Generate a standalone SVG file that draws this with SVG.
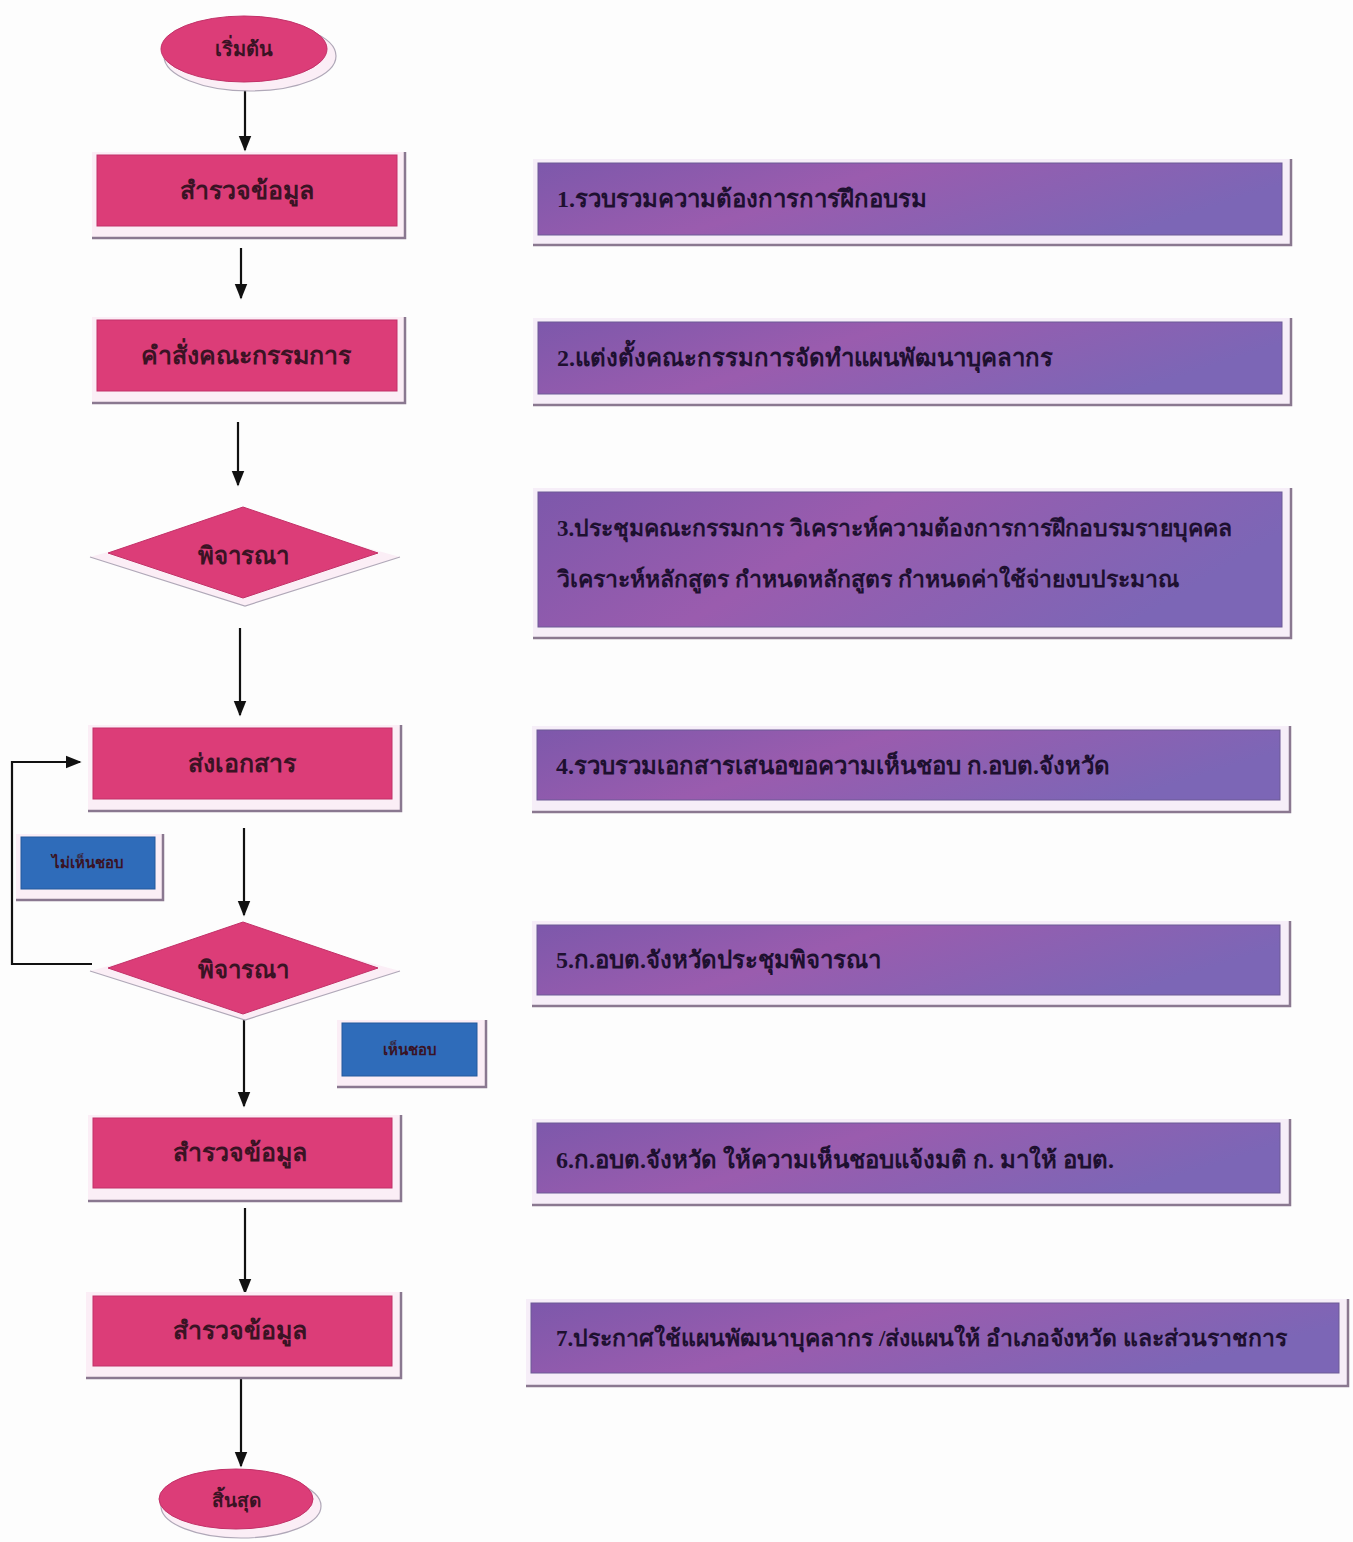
<svg xmlns="http://www.w3.org/2000/svg" width="1353" height="1542" viewBox="0 0 1353 1542">
<defs>
<linearGradient id="pg" x1="0" y1="0" x2="1" y2="0.3">
<stop offset="0" stop-color="#7d58ab"/>
<stop offset="0.45" stop-color="#9a5cae"/>
<stop offset="1" stop-color="#7c66b6"/>
</linearGradient>
<marker id="ah2" viewBox="0 0 10 10" refX="9" refY="5" markerWidth="16" markerHeight="16" markerUnits="userSpaceOnUse" orient="auto">
<path d="M0,1 L10,5 L0,9 z" fill="#111"/>
</marker>
</defs>
<style>
.bg{fill:#fdfdfd}
.pink{fill:#dc3d78;stroke:#c23168;stroke-width:1}
.pur{fill:url(#pg);stroke:#6c5a96;stroke-width:1}
.blue{fill:#2f6cba;stroke:#24589c;stroke-width:1}
.sh{fill:#fbeef6}
.shp{fill:#f6eef8}
.shl{fill:none;stroke:#8a7890;stroke-width:2.5}
.shl2{fill:none;stroke:#b0a8b8;stroke-width:1.2}
.conn{fill:none;stroke:#111;stroke-width:2.2}
.t{font-family:"Liberation Serif","Noto Sans",serif;fill:#3a1324;text-anchor:middle;dominant-baseline:central}
.tp{font-family:"Liberation Serif","Noto Sans",serif;fill:#1e1030;font-weight:bold;font-size:24px;dominant-baseline:central}
.tp.s{font-size:23px}
</style>
<rect class="bg" x="0" y="0" width="1353" height="1542"/>

<g id="connectors">
<line class="conn" x1="245" y1="86" x2="245" y2="150" marker-end="url(#ah2)"/>
<line class="conn" x1="241" y1="248" x2="241" y2="298" marker-end="url(#ah2)"/>
<line class="conn" x1="238" y1="422" x2="238" y2="485" marker-end="url(#ah2)"/>
<line class="conn" x1="240" y1="628" x2="240" y2="715" marker-end="url(#ah2)"/>
<line class="conn" x1="244" y1="828" x2="244" y2="915" marker-end="url(#ah2)"/>
<line class="conn" x1="244" y1="1018" x2="244" y2="1106" marker-end="url(#ah2)"/>
<line class="conn" x1="245" y1="1208" x2="245" y2="1293" marker-end="url(#ah2)"/>
<line class="conn" x1="241" y1="1378" x2="241" y2="1466" marker-end="url(#ah2)"/>
<polyline class="conn" points="92,964 12,964 12,762 80,762" marker-end="url(#ah2)"/>
</g>

<g id="start">
<ellipse class="sh" cx="250" cy="56" rx="86" ry="35"/>
<ellipse class="shl2" cx="250" cy="56" rx="86" ry="35"/>
<ellipse class="pink" cx="244" cy="49" rx="83" ry="33"/>
<text class="t" x="244" y="49" font-size="20" font-weight="bold">เริ่มต้น</text>
</g>

<g id="n1">
<rect class="sh" x="92" y="152" width="313" height="86"/>
<polyline class="shl" points="92,238 405,238 405,152"/>
<rect class="pink" x="97" y="155" width="300" height="71"/>
<text class="t" x="247" y="190" font-size="25" font-weight="bold">สำรวจข้อมูล</text>
</g>

<g id="n2">
<rect class="sh" x="92" y="317" width="313" height="86"/>
<polyline class="shl" points="92,403 405,403 405,317"/>
<rect class="pink" x="97" y="320" width="300" height="71"/>
<text class="t" x="246" y="355" font-size="25" font-weight="bold">คำสั่งคณะกรรมการ</text>
</g>

<g id="d1">
<polygon class="sh" points="245,514 400,557 245,606 90,557"/>
<polyline class="shl2" points="90,557 245,606 400,557"/>
<polygon class="pink" points="243,507 378,553 243,598 108,553"/>
<text class="t" x="243" y="556" font-size="24" font-weight="bold">พิจารณา</text>
</g>

<g id="n4">
<rect class="sh" x="88" y="725" width="313" height="86"/>
<polyline class="shl" points="88,811 401,811 401,725"/>
<rect class="pink" x="93" y="728" width="299" height="71"/>
<text class="t" x="242" y="763" font-size="25" font-weight="bold">ส่งเอกสาร</text>
</g>

<g id="d2">
<polygon class="sh" points="245,929 400,971 245,1020 90,971"/>
<polyline class="shl2" points="90,971 245,1020 400,971"/>
<polygon class="pink" points="243,922 378,968 243,1014 108,968"/>
<text class="t" x="243" y="970" font-size="24" font-weight="bold">พิจารณา</text>
</g>

<g id="no">
<rect class="sh" x="16" y="834" width="147" height="66"/>
<polyline class="shl" points="16,900 163,900 163,834"/>
<rect class="blue" x="21" y="837" width="134" height="52"/>
<text class="t" x="88" y="863" font-size="15" font-weight="bold" fill="#1a2a50">ไม่เห็นชอบ</text>
</g>

<g id="yes">
<rect class="sh" x="337" y="1020" width="149" height="67"/>
<polyline class="shl" points="337,1087 486,1087 486,1020"/>
<rect class="blue" x="342" y="1023" width="135" height="53"/>
<text class="t" x="410" y="1050" font-size="15" font-weight="bold" fill="#1a2a50">เห็นชอบ</text>
</g>

<g id="n6">
<rect class="sh" x="88" y="1115" width="313" height="86"/>
<polyline class="shl" points="88,1201 401,1201 401,1115"/>
<rect class="pink" x="93" y="1118" width="299" height="70"/>
<text class="t" x="240" y="1152" font-size="25" font-weight="bold">สำรวจข้อมูล</text>
</g>

<g id="n7">
<rect class="sh" x="86" y="1292" width="315" height="86"/>
<polyline class="shl" points="86,1378 401,1378 401,1292"/>
<rect class="pink" x="93" y="1296" width="299" height="70"/>
<text class="t" x="240" y="1330" font-size="25" font-weight="bold">สำรวจข้อมูล</text>
</g>

<g id="end">
<ellipse class="sh" cx="241" cy="1506" rx="80" ry="32"/>
<ellipse class="shl2" cx="241" cy="1506" rx="80" ry="32"/>
<ellipse class="pink" cx="236" cy="1499" rx="77" ry="30"/>
<text class="t" x="236" y="1500" font-size="19" font-weight="bold">สิ้นสุด</text>
</g>

<g id="p1">
<rect class="shp" x="533" y="159" width="758" height="86"/>
<polyline class="shl" points="533,245 1291,245 1291,159"/>
<rect class="pur" x="538" y="163" width="744" height="72"/>
<text class="tp" x="557" y="199">1.รวบรวมความต้องการการฝึกอบรม</text>
</g>

<g id="p2">
<rect class="shp" x="533" y="318" width="758" height="87"/>
<polyline class="shl" points="533,405 1291,405 1291,318"/>
<rect class="pur" x="538" y="322" width="744" height="72"/>
<text class="tp" x="557" y="358">2.แต่งตั้งคณะกรรมการจัดทำแผนพัฒนาบุคลากร</text>
</g>

<g id="p3">
<rect class="shp" x="533" y="488" width="758" height="150"/>
<polyline class="shl" points="533,638 1291,638 1291,488"/>
<rect class="pur" x="538" y="492" width="744" height="135"/>
<text class="tp s" x="557" y="528">3.ประชุมคณะกรรมการ วิเคราะห์ความต้องการการฝึกอบรมรายบุคคล</text>
<text class="tp s" x="557" y="579">วิเคราะห์หลักสูตร  กำหนดหลักสูตร กำหนดค่าใช้จ่ายงบประมาณ</text>
</g>

<g id="p4">
<rect class="shp" x="532" y="726" width="758" height="86"/>
<polyline class="shl" points="532,812 1290,812 1290,726"/>
<rect class="pur" x="537" y="730" width="743" height="70"/>
<text class="tp" x="556" y="766">4.รวบรวมเอกสารเสนอขอความเห็นชอบ ก.อบต.จังหวัด</text>
</g>

<g id="p5">
<rect class="shp" x="532" y="921" width="758" height="85"/>
<polyline class="shl" points="532,1006 1290,1006 1290,921"/>
<rect class="pur" x="537" y="925" width="743" height="70"/>
<text class="tp" x="556" y="960">5.ก.อบต.จังหวัดประชุมพิจารณา</text>
</g>

<g id="p6">
<rect class="shp" x="532" y="1119" width="758" height="86"/>
<polyline class="shl" points="532,1205 1290,1205 1290,1119"/>
<rect class="pur" x="537" y="1123" width="743" height="70"/>
<text class="tp" x="556" y="1160">6.ก.อบต.จังหวัด ให้ความเห็นชอบแจ้งมติ ก. มาให้ อบต.</text>
</g>

<g id="p7">
<rect class="shp" x="526" y="1299" width="822" height="87"/>
<polyline class="shl" points="526,1386 1348,1386 1348,1299"/>
<rect class="pur" x="531" y="1303" width="808" height="70"/>
<text class="tp s" x="556" y="1338">7.ประกาศใช้แผนพัฒนาบุคลากร /ส่งแผนให้ อำเภอจังหวัด และส่วนราชการ</text>
</g>
</svg>
